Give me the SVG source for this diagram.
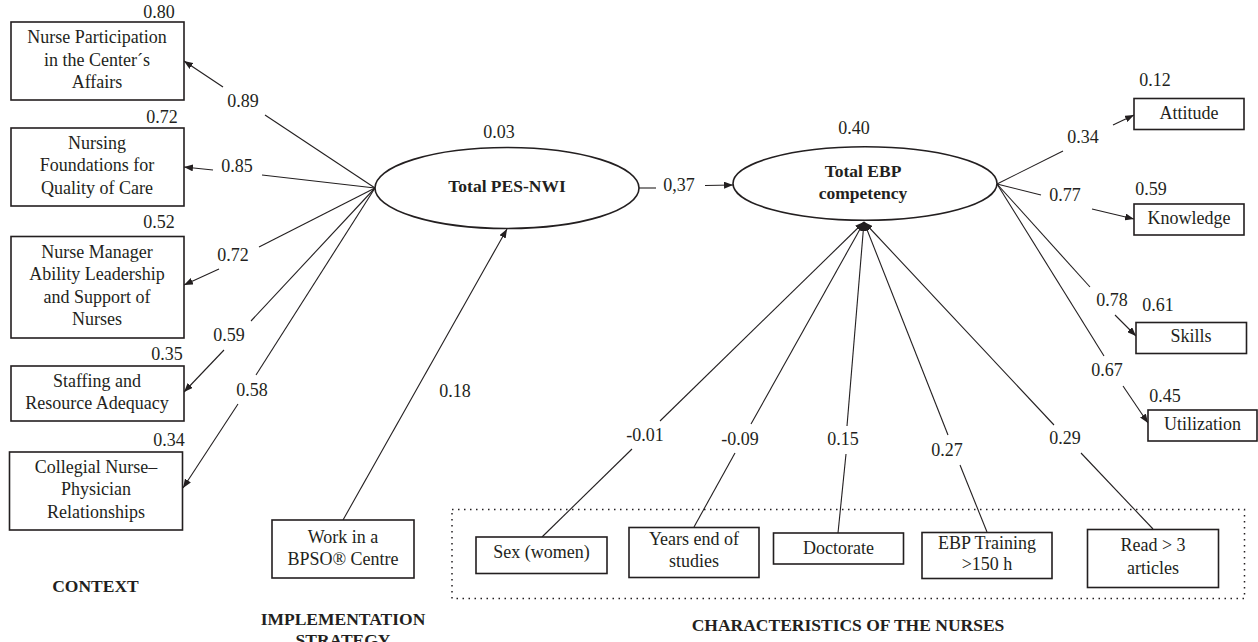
<svg xmlns="http://www.w3.org/2000/svg" width="1258" height="642" viewBox="0 0 1258 642">
<style>
text{font-family:"Liberation Serif","Times New Roman",serif;fill:#231f20;font-size:18px;text-anchor:middle}
.b{font-weight:bold;font-size:17.5px}
.box{fill:#fff;stroke:#231f20;stroke-width:1.6}
.ell{fill:#fff;stroke:#231f20;stroke-width:1.6}
.ln{stroke:#231f20;stroke-width:1.1;fill:none}
.ar{marker-end:url(#ah)}
.dot{fill:none;stroke:#231f20;stroke-width:1.5;stroke-dasharray:1.5 4.5}
</style>
<defs>
<marker id="ah" markerUnits="userSpaceOnUse" markerWidth="9" markerHeight="7" refX="9" refY="3.5" orient="auto">
<path d="M0,0 L9,3.5 L0,7 z" fill="#231f20"/>
</marker>
</defs>
<rect width="1258" height="642" fill="#fff"/>

<g id="group-characteristics">
<rect class="dot" x="452" y="509.5" width="792.5" height="89"/>
</g>

<g id="connectors">
<!-- left fan -->
<line class="ln" x1="375" y1="188" x2="265" y2="115"/>
<line class="ln ar" x1="223" y1="87" x2="184" y2="61"/>
<line class="ln" x1="375" y1="188" x2="262" y2="175"/>
<line class="ln ar" x1="213" y1="170" x2="184" y2="167"/>
<line class="ln" x1="375" y1="188" x2="259" y2="247"/>
<line class="ln ar" x1="219" y1="269" x2="184" y2="285"/>
<line class="ln" x1="375" y1="188" x2="251" y2="321"/>
<line class="ln ar" x1="224" y1="350" x2="184" y2="392"/>
<line class="ln" x1="375" y1="188" x2="256" y2="375"/>
<line class="ln ar" x1="238" y1="404" x2="183" y2="488"/>
<!-- BPSO -->
<line class="ln ar" x1="343" y1="520" x2="507" y2="229"/>
<!-- PES to EBP -->
<line class="ln" x1="639" y1="188" x2="656" y2="188"/>
<line class="ln ar" x1="705" y1="185.5" x2="733" y2="185"/>
<!-- right fan -->
<line class="ln" x1="997" y1="184" x2="1063" y2="151"/>
<line class="ln ar" x1="1113" y1="125" x2="1134" y2="115"/>
<line class="ln" x1="997" y1="184" x2="1041" y2="195"/>
<line class="ln ar" x1="1092" y1="209" x2="1134" y2="219"/>
<line class="ln" x1="997" y1="184" x2="1090" y2="287"/>
<line class="ln ar" x1="1115" y1="315" x2="1136" y2="336"/>
<line class="ln" x1="997" y1="184" x2="1104" y2="356"/>
<line class="ln ar" x1="1123" y1="386" x2="1148" y2="423"/>
<!-- bottom fan -->
<line class="ln ar" x1="660" y1="421" x2="864" y2="222"/>
<line class="ln" x1="632" y1="449" x2="542" y2="537"/>
<line class="ln ar" x1="751" y1="424" x2="864" y2="222"/>
<line class="ln" x1="735" y1="453" x2="694" y2="527"/>
<line class="ln ar" x1="847" y1="426" x2="864" y2="222"/>
<line class="ln" x1="846" y1="454" x2="838" y2="533"/>
<line class="ln ar" x1="948" y1="435" x2="864" y2="222"/>
<line class="ln" x1="960" y1="465" x2="987" y2="532"/>
<line class="ln ar" x1="1054" y1="425" x2="864" y2="222"/>
<line class="ln" x1="1081" y1="453" x2="1153" y2="529"/>
</g>

<g id="connector-labels">
<text x="243" y="107">0.89</text>
<text x="237" y="172">0.85</text>
<text x="233" y="261">0.72</text>
<text x="229" y="341">0.59</text>
<text x="252" y="396">0.58</text>
<text x="455" y="397">0.18</text>
<text x="679" y="191">0,37</text>
<text x="1083" y="143">0.34</text>
<text x="1065" y="201">0.77</text>
<text x="1112" y="306">0.78</text>
<text x="1107" y="376">0.67</text>
<text x="645" y="441">-0.01</text>
<text x="740" y="445">-0.09</text>
<text x="843" y="445">0.15</text>
<text x="947" y="456">0.27</text>
<text x="1065" y="444">0.29</text>
</g>

<g id="node-participation">
<rect class="box" x="11" y="22" width="173" height="78"/>
<text x="97" y="43">Nurse Participation</text>
<text x="97" y="65.5">in the Center´s</text>
<text x="97" y="87.5">Affairs</text>
<text x="159" y="18">0.80</text>
</g>
<g id="node-foundations">
<rect class="box" x="11" y="128" width="173" height="78"/>
<text x="97" y="149">Nursing</text>
<text x="97" y="171">Foundations for</text>
<text x="97" y="194">Quality of Care</text>
<text x="162" y="123">0.72</text>
</g>
<g id="node-manager">
<rect class="box" x="11" y="236.5" width="173" height="101.5"/>
<text x="97" y="257.5">Nurse Manager</text>
<text x="97" y="280">Ability Leadership</text>
<text x="97" y="302.5">and Support of</text>
<text x="97" y="325">Nurses</text>
<text x="159" y="228">0.52</text>
</g>
<g id="node-staffing">
<rect class="box" x="11" y="366" width="173" height="55"/>
<text x="97" y="387">Staffing and</text>
<text x="97" y="409">Resource Adequacy</text>
<text x="167" y="360">0.35</text>
</g>
<g id="node-collegial">
<rect class="box" x="9.5" y="452" width="173" height="78"/>
<text x="96" y="473">Collegial Nurse–</text>
<text x="96" y="495">Physician</text>
<text x="96" y="517.5">Relationships</text>
<text x="169" y="446">0.34</text>
</g>
<g id="label-context">
<text class="b" x="95.5" y="591.5">CONTEXT</text>
</g>

<g id="node-bpso">
<rect class="box" x="272" y="520" width="142" height="58"/>
<text x="343" y="542.5">Work in a</text>
<text x="343" y="565">BPSO® Centre</text>
</g>
<g id="label-implementation">
<text class="b" x="343" y="625">IMPLEMENTATION</text>
<text class="b" x="343" y="646">STRATEGY</text>
</g>

<g id="node-pes">
<ellipse class="ell" cx="507" cy="188" rx="132" ry="40.5"/>
<text class="b" x="507" y="192">Total PES-NWI</text>
<text x="499" y="138">0.03</text>
</g>
<g id="node-ebp">
<ellipse class="ell" cx="865" cy="183.5" rx="132" ry="36.8"/>
<text class="b" x="863" y="177">Total EBP</text>
<text class="b" x="863" y="199">competency</text>
<text x="854" y="134">0.40</text>
</g>

<g id="node-attitude">
<rect class="box" x="1134" y="98.5" width="110" height="31"/>
<text x="1189" y="118.5">Attitude</text>
<text x="1155" y="86">0.12</text>
</g>
<g id="node-knowledge">
<rect class="box" x="1134" y="204" width="110" height="31"/>
<text x="1189" y="223.5">Knowledge</text>
<text x="1151" y="195">0.59</text>
</g>
<g id="node-skills">
<rect class="box" x="1136" y="322.5" width="110.5" height="31"/>
<text x="1191" y="342">Skills</text>
<text x="1158" y="311">0.61</text>
</g>
<g id="node-utilization">
<rect class="box" x="1148" y="410" width="109" height="31"/>
<text x="1202.5" y="430">Utilization</text>
<text x="1165" y="402">0.45</text>
</g>

<g id="node-sex">
<rect class="box" x="476" y="537" width="131" height="36.5"/>
<text x="541.5" y="558">Sex (women)</text>
</g>
<g id="node-years">
<rect class="box" x="629" y="527.5" width="130" height="50"/>
<text x="694" y="545">Years end of</text>
<text x="694" y="567">studies</text>
</g>
<g id="node-doctorate">
<rect class="box" x="773.5" y="533" width="130" height="31"/>
<text x="838.5" y="553.5">Doctorate</text>
</g>
<g id="node-training">
<rect class="box" x="922" y="532.5" width="130" height="46"/>
<text x="987" y="548.5">EBP Training</text>
<text x="987" y="570">&gt;150 h</text>
</g>
<g id="node-read">
<rect class="box" x="1087.5" y="529.5" width="131" height="58"/>
<text x="1153" y="551">Read &gt; 3</text>
<text x="1153" y="574">articles</text>
</g>
<g id="label-characteristics">
<text class="b" x="848" y="631">CHARACTERISTICS OF THE NURSES</text>
</g>
</svg>
